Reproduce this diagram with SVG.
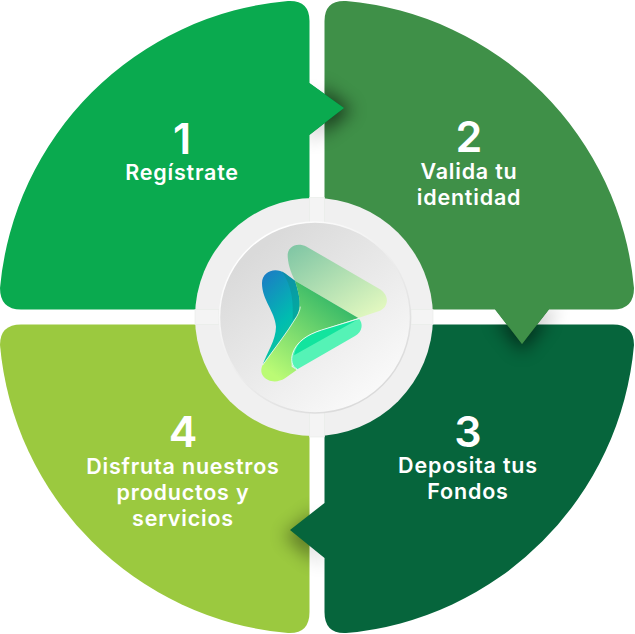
<svg xmlns="http://www.w3.org/2000/svg" width="635" height="634" viewBox="0 0 635 634">
<style>
text{font-family:"Inter","Liberation Sans",sans-serif;font-weight:600;fill:#fff;text-anchor:middle}
.n{font-size:43px}
.l{font-size:21.500px;letter-spacing:.8px}
.band{fill:#f4f4f4;stroke:#e6ebe6;stroke-width:.6}
</style>
<defs>
<filter id="blur" x="-150%" y="-150%" width="400%" height="400%"><feGaussianBlur stdDeviation="9"/></filter>
<clipPath id="c1a"><rect x="324.500" y="0" width="100" height="300"/></clipPath>
<clipPath id="c1b"><rect x="309.500" y="0" width="15" height="300"/></clipPath>
<clipPath id="c2a"><rect x="400" y="324.500" width="234" height="100"/></clipPath>
<clipPath id="c2b"><rect x="400" y="309.500" width="234" height="15"/></clipPath>
<clipPath id="c3a"><rect x="200" y="400" width="109.500" height="234"/></clipPath>
<clipPath id="c3b"><rect x="309.500" y="400" width="15" height="234"/></clipPath>
<linearGradient id="face" x1="0.2" y1="0.15" x2="0.8" y2="0.9"><stop offset="0" stop-color="#dadada"/><stop offset="1" stop-color="#f9f9f9"/></linearGradient>
<linearGradient id="faceEdge" x1="0.2" y1="0.1" x2="0.8" y2="0.9"><stop offset="0" stop-color="#fff"/><stop offset="1" stop-color="#dadada"/></linearGradient>
<linearGradient id="lg1" x1="0.1" y1="0" x2="0.9" y2="0.9"><stop offset="0" stop-color="#82c7a5"/><stop offset="1" stop-color="#e0f7bf"/></linearGradient>
<linearGradient id="lg2" x1="0.2" y1="0" x2="0.6" y2="1"><stop offset="0" stop-color="#1a7fc4"/><stop offset="0.6" stop-color="#00bdb0"/><stop offset="1" stop-color="#18c88f"/></linearGradient>
<linearGradient id="lg3" x1="0.75" y1="0.1" x2="0.15" y2="0.95"><stop offset="0" stop-color="#2fb567"/><stop offset="1" stop-color="#bbfb75"/></linearGradient>
<path id="t1" d="M309.500 83L344 108L309.500 135Z"/>
<path id="t2" d="M495 309.500L522 344L549 309.500Z"/>
<path id="t3" d="M324.500 503L290 530L324.500 558Z"/>
</defs>

<g id="node-4">
<path fill="#9bc93f" d="M0 345Q0 324.500 21 324.500H309.500V612Q309.500 634 288 633A317 317 0 0 1 0 345Z"/>
<text class="n" x="183" y="447">4</text>
<text class="l" x="183" y="474">Disfruta nuestros</text>
<text class="l" x="183" y="500">productos y</text>
<text class="l" x="183" y="526">servicios</text>
</g>

<g id="node-3">
<g clip-path="url(#c3a)"><use href="#t3" opacity=".4" filter="url(#blur)" transform="translate(-6 6)"/></g>
<g clip-path="url(#c3b)"><use href="#t3" opacity=".12" filter="url(#blur)" transform="translate(0 10)"/></g>
<path fill="#06653c" d="M324.500 324.500H613Q634 324.500 634 345A317 317 0 0 1 346 633Q324.500 634 324.500 612V558L290 530L324.500 503Z"/>
<text class="n" x="468" y="447">3</text>
<text class="l" x="468" y="473">Deposita tus</text>
<text class="l" x="468" y="499">Fondos</text>
</g>

<g id="node-2">
<path fill="#3f9048" d="M346 1A317 317 0 0 1 634 288Q634 309.500 613 309.500H549L522 344L495 309.500H324.500V21Q324.500 0 346 1Z"/>
<text class="n" x="469" y="152">2</text>
<text class="l" x="469" y="179">Valida tu</text>
<text class="l" x="469" y="205">identidad</text>
</g>

<g id="node-1">
<path fill="#0aaa4f" d="M288 1Q309.500 0 309.500 21V83L344 108L309.500 135V309.500H21Q0 309.500 0 288A317 317 0 0 1 288 1Z"/>
<text class="n" x="182" y="154">1</text>
<text class="l" x="182" y="180">Regístrate</text>
</g>

<g id="shadows">
<g clip-path="url(#c2a)"><use href="#t2" opacity=".55" filter="url(#blur)" transform="translate(0 8)"/></g>
<g clip-path="url(#c2b)"><use href="#t2" opacity=".2" filter="url(#blur)" transform="translate(10 0)"/></g>
<path fill="#3f9048" d="M495 309L522 344L549 309Z"/>
<g clip-path="url(#c1a)"><use href="#t1" opacity=".6" filter="url(#blur)" transform="translate(8 2)"/></g>
<g clip-path="url(#c1b)"><use href="#t1" opacity=".2" filter="url(#blur)" transform="translate(0 8)"/></g>
<path fill="#0aaa4f" d="M309 83L344 108L309 135Z"/>
</g>

<g id="node-center">
<circle cx="314" cy="317" r="119" fill="#f0f0f0"/>
<rect class="band" x="309.500" y="197.500" width="15" height="25"/>
<rect class="band" x="309.500" y="412" width="15" height="25"/>
<rect class="band" x="195" y="309.500" width="24" height="15"/>
<rect class="band" x="411" y="309.500" width="22" height="15"/>
<circle cx="315" cy="317.500" r="95.500" fill="url(#face)" stroke="url(#faceEdge)" stroke-width="1.500"/>
<g transform="translate(190 190) scale(.3333)">
<path fill="url(#lg1)" d="M293 195C293 170 320 155 350 170L570 298C600 318 595 350 570 362L505 384L315 272C300 245 293 215 293 195Z"/>
<path fill="url(#lg2)" d="M216 280C216 245 255 230 285 250L315 272C330 320 335 350 320 380C290 430 250 480 218 525C230 490 258 450 258 410C255 365 216 330 216 280Z"/>
<path fill="#0a8f8f" opacity=".45" d="M275 243L315 272C330 320 335 350 330 370L308 390C310 340 308 290 275 243Z"/>
<path fill="url(#lg3)" d="M315 272L505 384L395 420C345 432 305 470 305 530L320 540L285 565C245 590 200 560 218 525C250 480 290 430 320 380C335 350 330 320 315 272Z"/>
<path fill="#55f3b6" d="M507 386C520 400 518 425 495 438L322 538C305 535 300 510 308 490C320 455 350 435 395 420Z"/>
<path fill="#12e49e" d="M507 386L312 496C320 455 350 435 395 420Z"/>
<path fill="none" stroke="#fff" stroke-width="2.500" d="M507 386L395 420C350 435 320 455 308 490C302 510 305 530 322 538"/>
<path fill="none" stroke="#fff" stroke-width="2" d="M218 525C250 480 290 430 320 380C327 368 330 360 331 350"/>
</g>
</g>
</svg>
